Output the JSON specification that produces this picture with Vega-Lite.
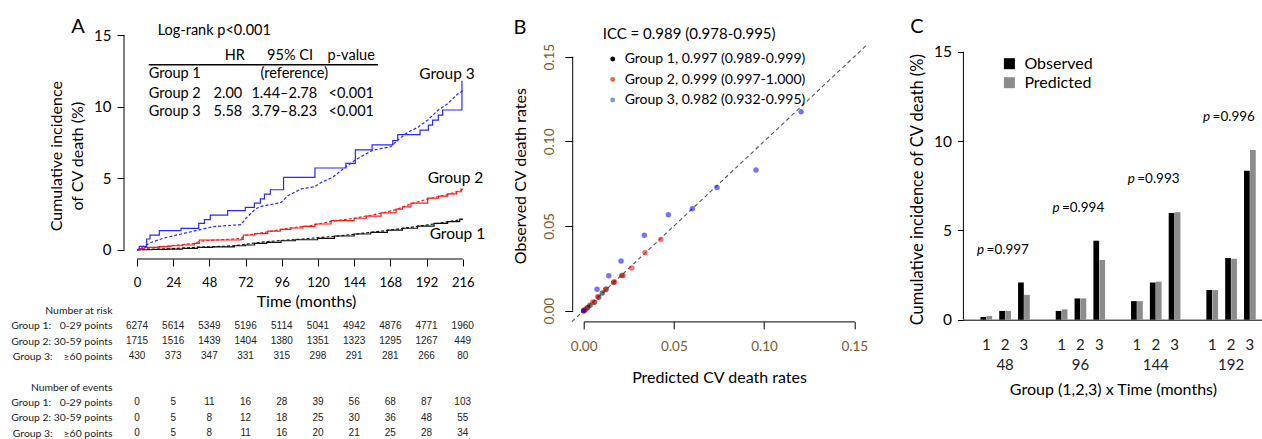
{
"$schema":"https://vega.github.io/schema/vega-lite/v6.json",
"background":"white",
"padding":{"left":10,"top":16,"right":0,"bottom":0},
"bounds":"flush",
"spacing":108.7,
"resolve":{"scale":{"color":"independent","fill":"independent"},"legend":{"color":"independent","fill":"independent"}},
"config":{
 "font":"Lato",
 "view":{"stroke":null},
 "axis":{"grid":false,"domainColor":"#000","tickColor":"#000","labelColor":"#000","titleColor":"#000","titleFontWeight":"normal","labelFlush":false,"labelOverlap":false},
 "legend":{"labelColor":"#000","titleColor":"#000"},
 "text":{"color":"#000"}
},
"datasets":{
 "km":[
  {"g":"Group 1","t":"Observed","m":0,"v":0},{"g":"Group 1","t":"Observed","m":10,"v":0.03},{"g":"Group 1","t":"Observed","m":20,"v":0.05},{"g":"Group 1","t":"Observed","m":30,"v":0.1},{"g":"Group 1","t":"Observed","m":40,"v":0.16},{"g":"Group 1","t":"Observed","m":50,"v":0.2},{"g":"Group 1","t":"Observed","m":64.5,"v":0.28},{"g":"Group 1","t":"Observed","m":72,"v":0.33},{"g":"Group 1","t":"Observed","m":78,"v":0.44},{"g":"Group 1","t":"Observed","m":86,"v":0.52},{"g":"Group 1","t":"Observed","m":95.5,"v":0.63},{"g":"Group 1","t":"Observed","m":105,"v":0.7},{"g":"Group 1","t":"Observed","m":119.8,"v":0.79},{"g":"Group 1","t":"Observed","m":131,"v":0.96},{"g":"Group 1","t":"Observed","m":144,"v":1.1},{"g":"Group 1","t":"Observed","m":155,"v":1.22},{"g":"Group 1","t":"Observed","m":166,"v":1.37},{"g":"Group 1","t":"Observed","m":176,"v":1.5},{"g":"Group 1","t":"Observed","m":186,"v":1.65},{"g":"Group 1","t":"Observed","m":197,"v":1.84},{"g":"Group 1","t":"Observed","m":206,"v":1.97},{"g":"Group 1","t":"Observed","m":214,"v":2.14},{"g":"Group 1","t":"Observed","m":216,"v":2.14},
  {"g":"Group 1","t":"Predicted","m":0,"v":0},{"g":"Group 1","t":"Predicted","m":20,"v":0.06},{"g":"Group 1","t":"Predicted","m":40,"v":0.18},{"g":"Group 1","t":"Predicted","m":60,"v":0.25},{"g":"Group 1","t":"Predicted","m":69,"v":0.33},{"g":"Group 1","t":"Predicted","m":80,"v":0.5},{"g":"Group 1","t":"Predicted","m":93,"v":0.63},{"g":"Group 1","t":"Predicted","m":110,"v":0.75},{"g":"Group 1","t":"Predicted","m":131,"v":0.94},{"g":"Group 1","t":"Predicted","m":144,"v":1.08},{"g":"Group 1","t":"Predicted","m":166,"v":1.35},{"g":"Group 1","t":"Predicted","m":186,"v":1.63},{"g":"Group 1","t":"Predicted","m":200,"v":1.85},{"g":"Group 1","t":"Predicted","m":216,"v":2.12},
  {"g":"Group 2","t":"Observed","m":0,"v":0},{"g":"Group 2","t":"Observed","m":2,"v":0.08},{"g":"Group 2","t":"Observed","m":5,"v":0.16},{"g":"Group 2","t":"Observed","m":15,"v":0.22},{"g":"Group 2","t":"Observed","m":22.5,"v":0.28},{"g":"Group 2","t":"Observed","m":30,"v":0.33},{"g":"Group 2","t":"Observed","m":38,"v":0.44},{"g":"Group 2","t":"Observed","m":41.3,"v":0.68},{"g":"Group 2","t":"Observed","m":69,"v":0.72},{"g":"Group 2","t":"Observed","m":70.5,"v":1.03},{"g":"Group 2","t":"Observed","m":78,"v":1.12},{"g":"Group 2","t":"Observed","m":86.7,"v":1.3},{"g":"Group 2","t":"Observed","m":95,"v":1.42},{"g":"Group 2","t":"Observed","m":102,"v":1.52},{"g":"Group 2","t":"Observed","m":110,"v":1.63},{"g":"Group 2","t":"Observed","m":118,"v":1.8},{"g":"Group 2","t":"Observed","m":128.7,"v":2.03},{"g":"Group 2","t":"Observed","m":144,"v":2.2},{"g":"Group 2","t":"Observed","m":152,"v":2.35},{"g":"Group 2","t":"Observed","m":161.8,"v":2.58},{"g":"Group 2","t":"Observed","m":171.8,"v":2.84},{"g":"Group 2","t":"Observed","m":176,"v":3.0},{"g":"Group 2","t":"Observed","m":181.7,"v":3.25},{"g":"Group 2","t":"Observed","m":192.8,"v":3.6},{"g":"Group 2","t":"Observed","m":200,"v":3.75},{"g":"Group 2","t":"Observed","m":206,"v":3.9},{"g":"Group 2","t":"Observed","m":212,"v":4.05},{"g":"Group 2","t":"Observed","m":215,"v":4.24},{"g":"Group 2","t":"Observed","m":216,"v":4.24},
  {"g":"Group 2","t":"Predicted","m":0,"v":0},{"g":"Group 2","t":"Predicted","m":10,"v":0.15},{"g":"Group 2","t":"Predicted","m":22.5,"v":0.28},{"g":"Group 2","t":"Predicted","m":38,"v":0.45},{"g":"Group 2","t":"Predicted","m":42,"v":0.6},{"g":"Group 2","t":"Predicted","m":55,"v":0.7},{"g":"Group 2","t":"Predicted","m":69,"v":0.78},{"g":"Group 2","t":"Predicted","m":72,"v":1.0},{"g":"Group 2","t":"Predicted","m":86.7,"v":1.25},{"g":"Group 2","t":"Predicted","m":100,"v":1.5},{"g":"Group 2","t":"Predicted","m":115,"v":1.68},{"g":"Group 2","t":"Predicted","m":128.7,"v":1.98},{"g":"Group 2","t":"Predicted","m":144,"v":2.2},{"g":"Group 2","t":"Predicted","m":161.8,"v":2.55},{"g":"Group 2","t":"Predicted","m":171.8,"v":2.8},{"g":"Group 2","t":"Predicted","m":181.7,"v":3.2},{"g":"Group 2","t":"Predicted","m":192.8,"v":3.55},{"g":"Group 2","t":"Predicted","m":206,"v":3.85},{"g":"Group 2","t":"Predicted","m":216,"v":4.2},
  {"g":"Group 3","t":"Observed","m":0,"v":0},{"g":"Group 3","t":"Observed","m":1.5,"v":0.23},{"g":"Group 3","t":"Observed","m":6.4,"v":0.75},{"g":"Group 3","t":"Observed","m":8.6,"v":1.02},{"g":"Group 3","t":"Observed","m":14.8,"v":1.33},{"g":"Group 3","t":"Observed","m":29.2,"v":1.49},{"g":"Group 3","t":"Observed","m":40.9,"v":1.84},{"g":"Group 3","t":"Observed","m":44.7,"v":2.1},{"g":"Group 3","t":"Observed","m":48.6,"v":2.42},{"g":"Group 3","t":"Observed","m":60.1,"v":2.73},{"g":"Group 3","t":"Observed","m":71.8,"v":2.96},{"g":"Group 3","t":"Observed","m":77.8,"v":3.26},{"g":"Group 3","t":"Observed","m":81.8,"v":3.56},{"g":"Group 3","t":"Observed","m":84.5,"v":3.89},{"g":"Group 3","t":"Observed","m":88.4,"v":4.19},{"g":"Group 3","t":"Observed","m":97.2,"v":5.05},{"g":"Group 3","t":"Observed","m":118,"v":5.71},{"g":"Group 3","t":"Observed","m":138.5,"v":6.03},{"g":"Group 3","t":"Observed","m":144.8,"v":6.97},{"g":"Group 3","t":"Observed","m":155.9,"v":7.32},{"g":"Group 3","t":"Observed","m":169.6,"v":7.62},{"g":"Group 3","t":"Observed","m":172.9,"v":8.04},{"g":"Group 3","t":"Observed","m":187.7,"v":8.36},{"g":"Group 3","t":"Observed","m":193.2,"v":8.7},{"g":"Group 3","t":"Observed","m":196,"v":9.06},{"g":"Group 3","t":"Observed","m":199.8,"v":9.41},{"g":"Group 3","t":"Observed","m":202.7,"v":9.76},{"g":"Group 3","t":"Observed","m":215.5,"v":11.76},{"g":"Group 3","t":"Observed","m":216,"v":11.76},
  {"g":"Group 3","t":"Predicted","m":0,"v":0},{"g":"Group 3","t":"Predicted","m":3,"v":0.15},{"g":"Group 3","t":"Predicted","m":6,"v":0.33},{"g":"Group 3","t":"Predicted","m":9.3,"v":0.51},{"g":"Group 3","t":"Predicted","m":18,"v":0.82},{"g":"Group 3","t":"Predicted","m":29.2,"v":1.1},{"g":"Group 3","t":"Predicted","m":39,"v":1.33},{"g":"Group 3","t":"Predicted","m":50.2,"v":1.61},{"g":"Group 3","t":"Predicted","m":64.5,"v":1.72},{"g":"Group 3","t":"Predicted","m":69,"v":1.75},{"g":"Group 3","t":"Predicted","m":72.3,"v":2.2},{"g":"Group 3","t":"Predicted","m":77.8,"v":2.77},{"g":"Group 3","t":"Predicted","m":81.1,"v":3.0},{"g":"Group 3","t":"Predicted","m":87.7,"v":3.14},{"g":"Group 3","t":"Predicted","m":95.5,"v":3.3},{"g":"Group 3","t":"Predicted","m":100,"v":3.77},{"g":"Group 3","t":"Predicted","m":108.8,"v":4.25},{"g":"Group 3","t":"Predicted","m":117.7,"v":4.4},{"g":"Group 3","t":"Predicted","m":122,"v":4.7},{"g":"Group 3","t":"Predicted","m":129.6,"v":5.05},{"g":"Group 3","t":"Predicted","m":138.6,"v":5.8},{"g":"Group 3","t":"Predicted","m":145.2,"v":6.3},{"g":"Group 3","t":"Predicted","m":156.3,"v":6.95},{"g":"Group 3","t":"Predicted","m":168.4,"v":7.2},{"g":"Group 3","t":"Predicted","m":172.9,"v":7.66},{"g":"Group 3","t":"Predicted","m":179.5,"v":8.2},{"g":"Group 3","t":"Predicted","m":186.2,"v":8.55},{"g":"Group 3","t":"Predicted","m":192.8,"v":9.06},{"g":"Group 3","t":"Predicted","m":199.8,"v":9.76},{"g":"Group 3","t":"Predicted","m":206,"v":10.2},{"g":"Group 3","t":"Predicted","m":212.7,"v":10.88},{"g":"Group 3","t":"Predicted","m":216,"v":11.1}
 ],
 "risk":[
  {"row":"Group 1: \u20070-29 points","m":0,"n":"6274"},{"row":"Group 1: \u20070-29 points","m":24,"n":"5614"},{"row":"Group 1: \u20070-29 points","m":48,"n":"5349"},{"row":"Group 1: \u20070-29 points","m":72,"n":"5196"},{"row":"Group 1: \u20070-29 points","m":96,"n":"5114"},{"row":"Group 1: \u20070-29 points","m":120,"n":"5041"},{"row":"Group 1: \u20070-29 points","m":144,"n":"4942"},{"row":"Group 1: \u20070-29 points","m":168,"n":"4876"},{"row":"Group 1: \u20070-29 points","m":192,"n":"4771"},{"row":"Group 1: \u20070-29 points","m":216,"n":"1960"},
  {"row":"Group 2: 30-59 points","m":0,"n":"1715"},{"row":"Group 2: 30-59 points","m":24,"n":"1516"},{"row":"Group 2: 30-59 points","m":48,"n":"1439"},{"row":"Group 2: 30-59 points","m":72,"n":"1404"},{"row":"Group 2: 30-59 points","m":96,"n":"1380"},{"row":"Group 2: 30-59 points","m":120,"n":"1351"},{"row":"Group 2: 30-59 points","m":144,"n":"1323"},{"row":"Group 2: 30-59 points","m":168,"n":"1295"},{"row":"Group 2: 30-59 points","m":192,"n":"1267"},{"row":"Group 2: 30-59 points","m":216,"n":"449"},
  {"row":"Group 3: \u2007\u2008≥60 points","m":0,"n":"430"},{"row":"Group 3: \u2007\u2008≥60 points","m":24,"n":"373"},{"row":"Group 3: \u2007\u2008≥60 points","m":48,"n":"347"},{"row":"Group 3: \u2007\u2008≥60 points","m":72,"n":"331"},{"row":"Group 3: \u2007\u2008≥60 points","m":96,"n":"315"},{"row":"Group 3: \u2007\u2008≥60 points","m":120,"n":"298"},{"row":"Group 3: \u2007\u2008≥60 points","m":144,"n":"291"},{"row":"Group 3: \u2007\u2008≥60 points","m":168,"n":"281"},{"row":"Group 3: \u2007\u2008≥60 points","m":192,"n":"266"},{"row":"Group 3: \u2007\u2008≥60 points","m":216,"n":"80"},
  {"row":"Group 1: \u20070-29 points\u200b","m":0,"n":"0"},{"row":"Group 1: \u20070-29 points\u200b","m":24,"n":"5"},{"row":"Group 1: \u20070-29 points\u200b","m":48,"n":"11"},{"row":"Group 1: \u20070-29 points\u200b","m":72,"n":"16"},{"row":"Group 1: \u20070-29 points\u200b","m":96,"n":"28"},{"row":"Group 1: \u20070-29 points\u200b","m":120,"n":"39"},{"row":"Group 1: \u20070-29 points\u200b","m":144,"n":"56"},{"row":"Group 1: \u20070-29 points\u200b","m":168,"n":"68"},{"row":"Group 1: \u20070-29 points\u200b","m":192,"n":"87"},{"row":"Group 1: \u20070-29 points\u200b","m":216,"n":"103"},
  {"row":"Group 2: 30-59 points\u200b","m":0,"n":"0"},{"row":"Group 2: 30-59 points\u200b","m":24,"n":"5"},{"row":"Group 2: 30-59 points\u200b","m":48,"n":"8"},{"row":"Group 2: 30-59 points\u200b","m":72,"n":"12"},{"row":"Group 2: 30-59 points\u200b","m":96,"n":"18"},{"row":"Group 2: 30-59 points\u200b","m":120,"n":"25"},{"row":"Group 2: 30-59 points\u200b","m":144,"n":"30"},{"row":"Group 2: 30-59 points\u200b","m":168,"n":"36"},{"row":"Group 2: 30-59 points\u200b","m":192,"n":"48"},{"row":"Group 2: 30-59 points\u200b","m":216,"n":"55"},
  {"row":"Group 3: \u2007\u2008≥60 points\u200b","m":0,"n":"0"},{"row":"Group 3: \u2007\u2008≥60 points\u200b","m":24,"n":"5"},{"row":"Group 3: \u2007\u2008≥60 points\u200b","m":48,"n":"8"},{"row":"Group 3: \u2007\u2008≥60 points\u200b","m":72,"n":"11"},{"row":"Group 3: \u2007\u2008≥60 points\u200b","m":96,"n":"16"},{"row":"Group 3: \u2007\u2008≥60 points\u200b","m":120,"n":"20"},{"row":"Group 3: \u2007\u2008≥60 points\u200b","m":144,"n":"21"},{"row":"Group 3: \u2007\u2008≥60 points\u200b","m":168,"n":"25"},{"row":"Group 3: \u2007\u2008≥60 points\u200b","m":192,"n":"28"},{"row":"Group 3: \u2007\u2008≥60 points\u200b","m":216,"n":"34"}
 ],
 "pts":[
  {"grp":"Group 1","pred":0,"obs":0},{"grp":"Group 1","pred":0.0008,"obs":0.0006},{"grp":"Group 1","pred":0.0022,"obs":0.0019},{"grp":"Group 1","pred":0.0035,"obs":0.0032},{"grp":"Group 1","pred":0.006,"obs":0.005},{"grp":"Group 1","pred":0.0083,"obs":0.0079},{"grp":"Group 1","pred":0.0103,"obs":0.0104},{"grp":"Group 1","pred":0.0124,"obs":0.0128},{"grp":"Group 1","pred":0.0166,"obs":0.0166},{"grp":"Group 1","pred":0.0212,"obs":0.0208},
  {"grp":"Group 2","pred":0,"obs":0},{"grp":"Group 2","pred":0.0015,"obs":0.0013},{"grp":"Group 2","pred":0.005,"obs":0.005},{"grp":"Group 2","pred":0.0078,"obs":0.0083},{"grp":"Group 2","pred":0.0122,"obs":0.0124},{"grp":"Group 2","pred":0.017,"obs":0.0171},{"grp":"Group 2","pred":0.0218,"obs":0.0208},{"grp":"Group 2","pred":0.0266,"obs":0.0252},{"grp":"Group 2","pred":0.034,"obs":0.0344},{"grp":"Group 2","pred":0.0428,"obs":0.042},
  {"grp":"Group 3","pred":0,"obs":0},{"grp":"Group 3","pred":0.0074,"obs":0.0126},{"grp":"Group 3","pred":0.0139,"obs":0.0207},{"grp":"Group 3","pred":0.0207,"obs":0.0293},{"grp":"Group 3","pred":0.0336,"obs":0.0445},{"grp":"Group 3","pred":0.0469,"obs":0.0567},{"grp":"Group 3","pred":0.0602,"obs":0.0602},{"grp":"Group 3","pred":0.0739,"obs":0.0728},{"grp":"Group 3","pred":0.0955,"obs":0.0831},{"grp":"Group 3","pred":0.1205,"obs":0.1175}
 ],
 "iccLegend":[{"lab":"Group 1, 0.997 (0.989-0.999)"},{"lab":"Group 2, 0.999 (0.997-1.000)"},{"lab":"Group 3, 0.982 (0.932-0.995)"}],
 "bars":[
  {"slot":"48-1","time":"48","grp":"1","series":"Observed","v":0.15},{"slot":"48-1","time":"48","grp":"1","series":"Predicted","v":0.21},
  {"slot":"48-2","time":"48","grp":"2","series":"Observed","v":0.49},{"slot":"48-2","time":"48","grp":"2","series":"Predicted","v":0.49},
  {"slot":"48-3","time":"48","grp":"3","series":"Observed","v":2.08},{"slot":"48-3","time":"48","grp":"3","series":"Predicted","v":1.39},
  {"slot":"96-1","time":"96","grp":"1","series":"Observed","v":0.49},{"slot":"96-1","time":"96","grp":"1","series":"Predicted","v":0.58},
  {"slot":"96-2","time":"96","grp":"2","series":"Observed","v":1.19},{"slot":"96-2","time":"96","grp":"2","series":"Predicted","v":1.19},
  {"slot":"96-3","time":"96","grp":"3","series":"Observed","v":4.42},{"slot":"96-3","time":"96","grp":"3","series":"Predicted","v":3.34},
  {"slot":"144-1","time":"144","grp":"1","series":"Observed","v":1.04},{"slot":"144-1","time":"144","grp":"1","series":"Predicted","v":1.04},
  {"slot":"144-2","time":"144","grp":"2","series":"Observed","v":2.08},{"slot":"144-2","time":"144","grp":"2","series":"Predicted","v":2.13},
  {"slot":"144-3","time":"144","grp":"3","series":"Observed","v":5.97},{"slot":"144-3","time":"144","grp":"3","series":"Predicted","v":6.02},
  {"slot":"192-1","time":"192","grp":"1","series":"Observed","v":1.66},{"slot":"192-1","time":"192","grp":"1","series":"Predicted","v":1.66},
  {"slot":"192-2","time":"192","grp":"2","series":"Observed","v":3.45},{"slot":"192-2","time":"192","grp":"2","series":"Predicted","v":3.41},
  {"slot":"192-3","time":"192","grp":"3","series":"Observed","v":8.33},{"slot":"192-3","time":"192","grp":"3","series":"Predicted","v":9.5}
 ],
 "pvals":[{"time":"48","p":"=0.997"},{"time":"96","p":"=0.994"},{"time":"144","p":"=0.993"},{"time":"192","p":"=0.996"}]
},
"hconcat":[
 {
  "width":338,"height":398,
  "resolve":{"scale":{"y":"independent"},"axis":{"y":"independent"}},
  "layer":[
   {"layer":[
    {"data":{"name":"km"},"transform":[{"filter":"datum.t == 'Observed'"}],
     "mark":{"type":"line","interpolate":"step-after","strokeWidth":1.2},
     "encoding":{
      "x":{"field":"m","type":"quantitative","scale":{"domain":[0,224.15],"nice":false,"zero":false},
           "axis":{"values":[0,24,48,72,96,120,144,168,192,216],"format":"d","tickCount":50,"labelOverlap":false,"offset":-174,"domain":false,"tickSize":7,"labelFontSize":13,"labelPadding":10,"title":"Time (months)","titleFontSize":16,"titlePadding":4}},
      "y":{"field":"v","type":"quantitative","scale":{"domain":[-12.8,15],"nice":false,"zero":false},
           "axis":{"values":[0,5,10,15],"format":"d","tickCount":50,"labelOverlap":false,"offset":13,"domain":false,"tickSize":7,"labelFontSize":15,"labelPadding":6,"title":["Cumulative incidence","of CV death (%)"],"titleFontSize":16,"titleLineHeight":21,"titlePadding":8,"titleY":120.7}},
      "color":{"field":"g","type":"nominal","scale":{"domain":["Group 1","Group 2","Group 3"],"range":["#111111","#ff1a1a","#2828ff"]},"legend":null}}},
    {"data":{"name":"km"},"transform":[{"filter":"datum.t == 'Predicted'"}],
     "mark":{"type":"line","strokeWidth":1.2,"strokeDash":[3,2]},
     "encoding":{"x":{"field":"m","type":"quantitative"},"y":{"field":"v","type":"quantitative"},"color":{"field":"g","type":"nominal","legend":null}}},
    {"data":{"values":[{}]},"mark":{"type":"rule","color":"#000","strokeWidth":1},"encoding":{"x":{"datum":0},"x2":{"datum":216},"y":{"datum":-0.646}}},
    {"data":{"values":[{}]},"mark":{"type":"rule","color":"#000","strokeWidth":1},"encoding":{"x":{"datum":-8.62},"y":{"datum":0},"y2":{"datum":15}}},
    {"data":{"values":[{}]},"mark":{"type":"rule","color":"#000","strokeWidth":1.5},"encoding":{"x":{"datum":7.76},"x2":{"datum":159.8},"y":{"datum":12.92}}},
    {"data":{"values":[{}]},"mark":{"type":"text","fontSize":20,"align":"center","baseline":"alphabetic"},"encoding":{"x":{"datum":-39.1},"y":{"datum":15.16},"text":{"value":"A"}}},
    {"data":{"values":[{}]},"mark":{"type":"text","fontSize":14.5,"align":"left","baseline":"middle"},"encoding":{"x":{"datum":13.73},"y":{"datum":15.3},"text":{"value":"Log-rank p<0.001"}}},
    {"data":{"values":[{}]},"mark":{"type":"text","fontSize":14.5,"align":"center","baseline":"middle"},"encoding":{"x":{"datum":64.8},"y":{"datum":13.55},"text":{"value":"HR"}}},
    {"data":{"values":[{}]},"mark":{"type":"text","fontSize":14.5,"align":"center","baseline":"middle"},"encoding":{"x":{"datum":101.5},"y":{"datum":13.55},"text":{"value":"95% CI"}}},
    {"data":{"values":[{}]},"mark":{"type":"text","fontSize":14.5,"align":"left","baseline":"middle"},"encoding":{"x":{"datum":126.4},"y":{"datum":13.55},"text":{"value":"p-value"}}},
    {"data":{"values":[{}]},"mark":{"type":"text","fontSize":14.5,"align":"left","baseline":"middle"},"encoding":{"x":{"datum":7.76},"y":{"datum":12.25},"text":{"value":"Group 1"}}},
    {"data":{"values":[{}]},"mark":{"type":"text","fontSize":14.5,"align":"center","baseline":"middle"},"encoding":{"x":{"datum":104.3},"y":{"datum":12.25},"text":{"value":"(reference)"}}},
    {"data":{"values":[{}]},"mark":{"type":"text","fontSize":14.5,"align":"left","baseline":"middle"},"encoding":{"x":{"datum":7.76},"y":{"datum":10.9},"text":{"value":"Group 2"}}},
    {"data":{"values":[{}]},"mark":{"type":"text","fontSize":14.5,"align":"center","baseline":"middle"},"encoding":{"x":{"datum":60.3},"y":{"datum":10.9},"text":{"value":"2.00"}}},
    {"data":{"values":[{}]},"mark":{"type":"text","fontSize":14.5,"align":"center","baseline":"middle"},"encoding":{"x":{"datum":97.7},"y":{"datum":10.9},"text":{"value":"1.44–2.78"}}},
    {"data":{"values":[{}]},"mark":{"type":"text","fontSize":14.5,"align":"left","baseline":"middle"},"encoding":{"x":{"datum":127},"y":{"datum":10.9},"text":{"value":"<0.001"}}},
    {"data":{"values":[{}]},"mark":{"type":"text","fontSize":14.5,"align":"left","baseline":"middle"},"encoding":{"x":{"datum":7.76},"y":{"datum":9.64},"text":{"value":"Group 3"}}},
    {"data":{"values":[{}]},"mark":{"type":"text","fontSize":14.5,"align":"center","baseline":"middle"},"encoding":{"x":{"datum":60.3},"y":{"datum":9.64},"text":{"value":"5.58"}}},
    {"data":{"values":[{}]},"mark":{"type":"text","fontSize":14.5,"align":"center","baseline":"middle"},"encoding":{"x":{"datum":97.7},"y":{"datum":9.64},"text":{"value":"3.79–8.23"}}},
    {"data":{"values":[{}]},"mark":{"type":"text","fontSize":14.5,"align":"left","baseline":"middle"},"encoding":{"x":{"datum":127},"y":{"datum":9.64},"text":{"value":"<0.001"}}},
    {"data":{"values":[{}]},"mark":{"type":"text","fontSize":15.5,"align":"center","baseline":"middle"},"encoding":{"x":{"datum":205.6},"y":{"datum":12.29},"text":{"value":"Group 3"}}},
    {"data":{"values":[{}]},"mark":{"type":"text","fontSize":15.5,"align":"center","baseline":"middle"},"encoding":{"x":{"datum":211.2},"y":{"datum":5.03},"text":{"value":"Group 2"}}},
    {"data":{"values":[{}]},"mark":{"type":"text","fontSize":15.5,"align":"center","baseline":"middle"},"encoding":{"x":{"datum":212.5},"y":{"datum":1.12},"text":{"value":"Group 1"}}}
   ]},
   {"data":{"name":"risk"},
    "mark":{"type":"text","font":"Liberation Sans","fontSize":10,"color":"#222222"},
    "encoding":{
     "x":{"field":"m","type":"quantitative"},
     "y":{"field":"row","type":"nominal","scale":{"type":"point","domain":["_01","_02","_03","_04","_05","_06","_07","_08","_09","_10","_11","_12","_13","_14","_15","_16","_17","_18","Number at risk","Group 1: \u20070-29 points","Group 2: 30-59 points","Group 3: \u2007\u2008≥60 points","\u2003","Number of events","Group 1: \u20070-29 points\u200b","Group 2: 30-59 points\u200b","Group 3: \u2007\u2008≥60 points\u200b"],"padding":0},
          "axis":{"orient":"left","labelExpr":"indexof(datum.value, '_') == 0 ? '' : datum.value","domain":false,"ticks":false,"tickSize":0,"labelPadding":25,"labelFontSize":10.4,"labelColor":"#1a1a1a","labelOverlap":false,"title":null}},
     "text":{"field":"n"}}}
  ]
 },
 {
  "width":270.6,"height":275.7,
  "layer":[
   {"data":{"values":[{}]},"mark":{"type":"rule","color":"#000","strokeWidth":1},"encoding":{"x":{"datum":-0.0061},"y":{"datum":0},"y2":{"datum":0.15}}},
   {"data":{"values":[{}]},"mark":{"type":"rule","color":"#555555","strokeWidth":1.1,"strokeDash":[4,3]},"encoding":{"x":{"datum":-0.0065},"x2":{"datum":0.157},"y":{"datum":-0.0065},"y2":{"datum":0.157}}},
   {"data":{"name":"pts"},"mark":{"type":"circle","size":30,"opacity":0.55},
    "encoding":{
     "x":{"field":"pred","type":"quantitative","scale":{"domain":[0,0.15],"nice":false,"zero":false},
          "axis":{"values":[0,0.05,0.1,0.15],"format":".2f","offset":10.7,"tickSize":7.5,"labelFontSize":13.5,"labelColor":"#7a5a2e","labelPadding":11,"title":"Predicted CV death rates","titleFontSize":16,"titlePadding":16}},
     "y":{"field":"obs","type":"quantitative","scale":{"domain":[0,0.16281],"nice":false,"zero":false},
          "axis":{"values":[0,0.05,0.1,0.15],"format":".2f","offset":11,"domain":false,"tickSize":8,"labelAngle":270,"labelAlign":"center","labelBaseline":"bottom","labelPadding":8,"labelFontSize":13.5,"labelColor":"#7a5a2e","title":"Observed CV death rates","titleFontSize":16,"titlePadding":14,"titleY":140.7}},
     "fill":{"field":"grp","type":"nominal","scale":{"domain":["Group 1","Group 2","Group 3"],"range":["#000000","#ff0000","#0000ff"]},"legend":null}}},
   {"data":{"name":"iccLegend"},"mark":{"type":"circle","opacity":0},
    "encoding":{"color":{"field":"lab","type":"nominal","scale":{"domain":["Group 1, 0.997 (0.989-0.999)","Group 2, 0.999 (0.997-1.000)","Group 3, 0.982 (0.932-0.995)"],"range":["#000000","#ee6a2a","#7b98dc"]},
      "legend":{"orient":"none","legendX":19,"legendY":-8.45,"title":"ICC = 0.989 (0.978-0.995)","titleFontSize":15,"titleFontWeight":"normal","titlePadding":10.5,"titleLimit":400,"labelFontSize":14,"labelLimit":400,"symbolType":"circle","symbolSize":24,"symbolOffset":3,"labelOffset":5,"rowPadding":6.5,"padding":0,"symbolStrokeWidth":0,"symbolOpacity":1}}}},
   {"data":{"values":[{}]},"mark":{"type":"text","fontSize":20,"align":"center","baseline":"alphabetic"},"encoding":{"x":{"datum":-0.0353},"y":{"datum":0.16357},"text":{"value":"B"}}}
  ]
 },
 {
  "width":299,"height":284.7,
  "resolve":{"scale":{"x":"independent"},"axis":{"x":"independent"}},
  "layer":[
   {"data":{"name":"bars"},
    "layer":[
     {"mark":{"type":"bar"},
      "encoding":{
       "x":{"field":"slot","type":"nominal","scale":{"type":"band","domain":["48-1","48-2","48-3","gap1","96-1","96-2","96-3","gap2","144-1","144-2","144-3","gap3","192-1","192-2","192-3"],"paddingInner":0.377,"paddingOuter":0.628,"align":0.719,"round":false},
            "axis":{"labelExpr":"indexof(datum.value, '-') < 0 ? '' : (split(datum.value, '-')[1] == '2' ? ['2', split(datum.value, '-')[0]] : split(datum.value, '-')[1])","domain":true,"ticks":false,"tickSize":0,"labelFontSize":15,"labelPadding":18,"labelLineHeight":20,"labelAngle":0,"labelColor":"#222222","labelBound":false,"title":"Group (1,2,3) x Time (months)","titleFontSize":16,"titlePadding":9}},
       "xOffset":{"field":"series","type":"nominal","scale":{"domain":["Observed","Predicted"],"paddingInner":0.05,"paddingOuter":0}},
       "y":{"field":"v","type":"quantitative","scale":{"domain":[0,15.935],"nice":false,"zero":false},
            "axis":{"values":[0,5,10,15],"format":"d","tickCount":50,"domain":false,"tickSize":6,"labelPadding":6,"labelFontSize":15.5,"title":"Cumulative incidence of CV death (%)","titleFontSize":16.5,"titlePadding":8,"titleY":154.2}},
       "color":{"field":"series","type":"nominal","scale":{"domain":["Observed","Predicted"],"range":["#000000","#8c8c8c"]},
            "legend":{"orient":"none","legendX":38,"legendY":20.7,"title":null,"symbolType":"square","symbolSize":121,"symbolStrokeWidth":0,"labelFontSize":16,"labelOffset":7,"rowPadding":3,"padding":0}}}},
     {"transform":[{"joinaggregate":[{"op":"max","field":"v","as":"mx"}],"groupby":["time"]},{"filter":"datum.grp == '2' && datum.series == 'Observed'"}],
      "mark":{"type":"text","align":"left","baseline":"middle","fontStyle":"italic","fontSize":13.5,"dx":-28,"dy":-33},
      "encoding":{"x":{"field":"slot","type":"nominal"},"y":{"field":"mx","type":"quantitative"},"text":{"value":"p"}}},
     {"transform":[{"joinaggregate":[{"op":"max","field":"v","as":"mx"}],"groupby":["time"]},{"filter":"datum.grp == '2' && datum.series == 'Observed'"},{"lookup":"time","from":{"data":{"name":"pvals"},"key":"time","fields":["p"]}}],
      "mark":{"type":"text","align":"left","baseline":"middle","fontSize":13.5,"dx":-18.5,"dy":-33},
      "encoding":{"x":{"field":"slot","type":"nominal"},"y":{"field":"mx","type":"quantitative"},"text":{"field":"p","type":"nominal"}}},
     {"data":{"values":[{}]},"mark":{"type":"text","fontSize":20,"align":"center","baseline":"alphabetic","dx":-69.4},"encoding":{"x":{"datum":"48-1","type":"nominal"},"y":{"datum":16.06},"text":{"value":"C"}}}
    ]},
   {"data":{"values":[{}]},"mark":{"type":"rule","color":"#000","strokeWidth":1},"encoding":{"x":{"datum":0,"scale":{"domain":[0,1]},"axis":null},"y":{"datum":0},"y2":{"datum":15}}}
  ]
 }
]
}
